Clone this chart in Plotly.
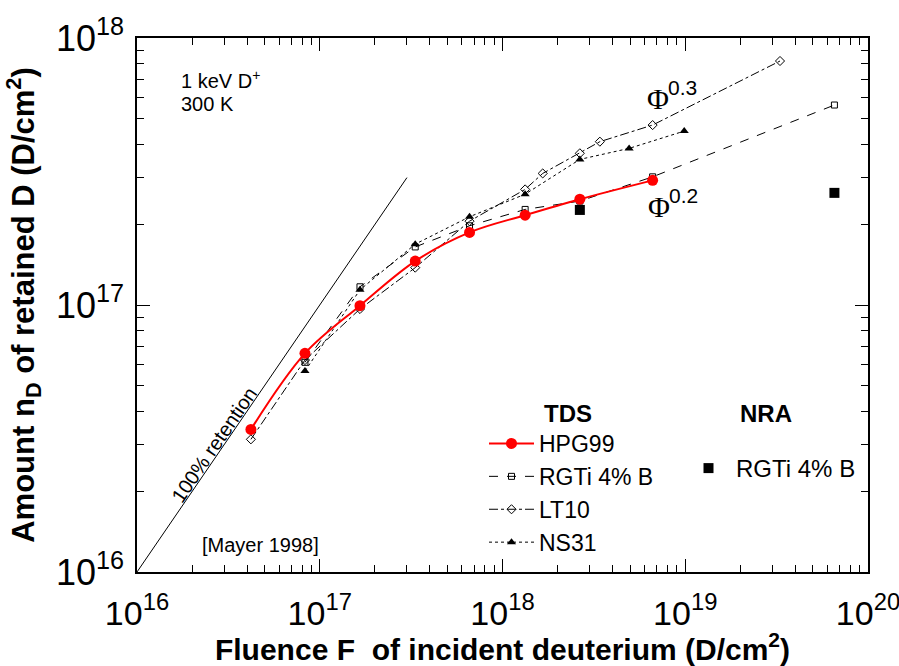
import plotly.graph_objects as go

# ---------------- data ----------------
hpg99_x = [4.2e16, 8.3e16, 1.66e17, 3.33e17, 6.6e17, 1.33e18, 2.65e18, 6.63e18]
hpg99_y = [3.42e16, 6.59e16, 9.94e16, 1.46e17, 1.87e17, 2.17e17, 2.49e17, 2.93e17]

rgti_x = [8.3e16, 1.66e17, 3.33e17, 6.6e17, 1.33e18, 2.65e18, 6.63e18, 6.55e19]
rgti_y = [6.10e16, 1.17e17, 1.65e17, 1.98e17, 2.28e17, 2.45e17, 3.02e17, 5.61e17]

lt10_x = [4.2e16, 8.3e16, 1.66e17, 3.33e17, 6.6e17, 1.33e18, 1.66e18, 2.65e18, 3.41e18, 6.63e18, 3.30e19]
lt10_y = [3.14e16, 6.22e16, 9.66e16, 1.38e17, 2.06e17, 2.71e17, 3.11e17, 3.70e17, 4.09e17, 4.72e17, 8.20e17]

ns31_x = [8.3e16, 1.66e17, 3.33e17, 6.6e17, 1.33e18, 2.65e18, 4.93e18, 9.87e18]
ns31_y = [5.66e16, 1.14e17, 1.69e17, 2.14e17, 2.60e17, 3.51e17, 3.86e17, 4.48e17]

nra_x = [2.65e18, 6.55e19]
nra_y = [2.27e17, 2.63e17]

retention_x = [1e16, 3e17]
retention_y = [1e16, 3e17]

tick_vals = [1e16, 1e17, 1e18, 1e19, 1e20]
x_tick_text = ["10<sup>16</sup>", "10<sup>17</sup>", "10<sup>18</sup>", "10<sup>19</sup>", "10<sup>20</sup>"]
y_tick_vals = [1e16, 1e17, 1e18]
y_tick_text = ["10<sup>16</sup>", "10<sup>17</sup>", "10<sup>18</sup>"]

# ---------------- layout helpers ----------------
W, H = 899, 666
L, R, T, B = 137, 31, 38, 94
PW, PH = W - L - R, H - T - B


def px(x):
    return (x - L) / PW


def py(y):
    return (H - B - y) / PH


FONT = "Arial, Liberation Sans, Helvetica, sans-serif"

fig = go.Figure()

fig.add_trace(go.Scatter(x=retention_x, y=retention_y, mode="lines",
                         line=dict(color="black", width=1), showlegend=False,
                         hoverinfo="skip"))
fig.add_trace(go.Scatter(x=rgti_x, y=rgti_y, mode="lines+markers", name="RGTi 4% B",
                         line=dict(color="black", width=1, dash="dash"),
                         marker=dict(symbol="square-open", size=6, color="black",
                                     line=dict(width=1, color="black")),
                         legend="legend", legendrank=2))
fig.add_trace(go.Scatter(x=lt10_x, y=lt10_y, mode="lines+markers", name="LT10",
                         line=dict(color="black", width=1, dash="dashdot"),
                         marker=dict(symbol="diamond-open", size=7, color="black",
                                     line=dict(width=1, color="black")),
                         legend="legend", legendrank=3))
fig.add_trace(go.Scatter(x=ns31_x, y=ns31_y, mode="lines+markers", name="NS31",
                         line=dict(color="black", width=1, dash="dot"),
                         marker=dict(symbol="triangle-up", size=8, color="black"),
                         legend="legend", legendrank=4))
fig.add_trace(go.Scatter(x=hpg99_x, y=hpg99_y, mode="lines+markers", name="HPG99",
                         line=dict(color="#ff0000", width=2, shape="spline"),
                         marker=dict(symbol="circle", size=11, color="#ff0000"),
                         legend="legend", legendrank=1))
fig.add_trace(go.Scatter(x=nra_x, y=nra_y, mode="markers", name="RGTi 4% B",
                         marker=dict(symbol="square", size=10, color="black"),
                         legend="legend2"))

axis_common = dict(
    type="log", showgrid=False, zeroline=False,
    showline=True, linecolor="black", linewidth=1.5, mirror="ticks",
    ticks="inside", ticklen=13, tickwidth=1.2, tickcolor="black",
    minor=dict(ticks="inside", ticklen=7, tickwidth=1, tickcolor="black",
               dtick="D1", showgrid=False),
    ticklabeloverflow="allow",
)

fig.update_xaxes(**axis_common, range=[16, 20], tickvals=tick_vals, ticktext=x_tick_text,
                 tickfont=dict(family=FONT, size=34, color="black"),
                 ticklabelstandoff=10,
                 title=dict(text="<b>Fluence F\u00a0\u00a0of incident deuterium (D/cm<sup>2</sup>)</b>",
                            font=dict(family=FONT, size=30, color="black"), standoff=0))
fig.update_yaxes(**axis_common, range=[16, 18], tickvals=y_tick_vals, ticktext=y_tick_text,
                 tickfont=dict(family=FONT, size=36, color="black"),
                 ticklabelstandoff=4,
                 title=dict(text="<b>Amount n<sub>D</sub> of retained D (D/cm<sup>2</sup>)</b>",
                            font=dict(family=FONT, size=31, color="black"), standoff=12))

annotations = [
    dict(x=px(179), y=py(80), text="1 keV D<sup>+</sup>", xanchor="left", yanchor="middle",
         font=dict(family=FONT, size=20)),
    dict(x=px(179), y=py(104), text="300 K", xanchor="left", yanchor="middle",
         font=dict(family=FONT, size=20)),
    dict(x=px(214), y=py(445), text="100% retention", textangle=-55.6,
         xanchor="center", yanchor="middle", font=dict(family=FONT, size=20)),
    dict(x=px(260), y=py(545), text="[Mayer 1998]", xanchor="center", yanchor="middle",
         font=dict(family=FONT, size=20)),
    dict(x=px(657.5), y=py(98), text="Φ", xanchor="center", yanchor="middle",
         font=dict(family="Liberation Serif, Times New Roman, serif", size=30)),
    dict(x=px(682), y=py(87.5), text="0.3", xanchor="center", yanchor="middle",
         font=dict(family=FONT, size=21)),
    dict(x=px(658.5), y=py(206), text="Φ", xanchor="center", yanchor="middle",
         font=dict(family="Liberation Serif, Times New Roman, serif", size=30)),
    dict(x=px(683), y=py(196), text="0.2", xanchor="center", yanchor="middle",
         font=dict(family=FONT, size=21)),
    dict(x=px(541.7), y=py(413), text="<b>TDS</b>", xanchor="left", yanchor="middle",
         font=dict(family=FONT, size=24)),
    dict(x=px(738), y=py(413), text="<b>NRA</b>", xanchor="left", yanchor="middle",
         font=dict(family=FONT, size=24)),
]
for a in annotations:
    a.update(xref="paper", yref="paper", showarrow=False)
    a["font"]["color"] = "black"

legend_common = dict(bgcolor="rgba(0,0,0,0)", borderwidth=0, itemwidth=45,
                     xanchor="left", yanchor="top", traceorder="normal", tracegroupgap=0)

fig.update_layout(
    width=W, height=H,
    margin=dict(l=L, r=R, t=T, b=B, autoexpand=False),
    paper_bgcolor="white", plot_bgcolor="white",
    font=dict(family=FONT, color="black"),
    annotations=annotations,
    legend=dict(**legend_common, font=dict(family=FONT, size=23, color="black"),
                x=px(484), y=py(422)),
    legend2=dict(**legend_common, font=dict(family=FONT, size=24, color="black"),
                 x=px(681), y=py(446)),
    showlegend=True,
)

fig.write_html("out.html")
